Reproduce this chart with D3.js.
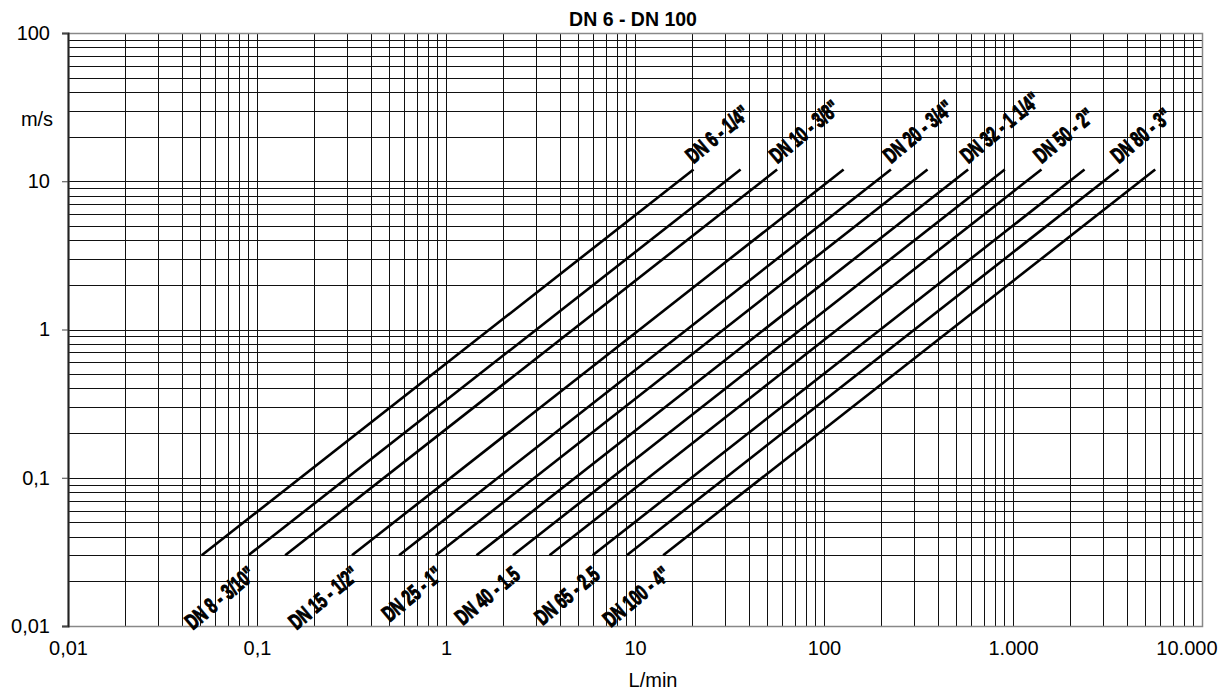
<!DOCTYPE html>
<html>
<head>
<meta charset="utf-8">
<script src="https://cdn.jsdelivr.net/npm/d3@7"></script>
<style>
  body { margin: 0; background: #fff; }
  svg text { font-family: "Liberation Sans", Arial, sans-serif; fill: #000; }
</style>
</head>
<body>
<svg id="chart"></svg>
<script>
// pipe sizes
var pipes = ['DN 6 - 1/4"', 'DN 8 - 3/10"', 'DN 10 - 3/8"', 'DN 15 - 1/2"', 'DN 20 - 3/4"', 'DN 25 - 1"',
             'DN 32 - 1 1/4"', 'DN 40 - 1.5', 'DN 50 - 2"', 'DN 65 - 2.5', 'DN 80 - 3"', 'DN 100 - 4"'];
// flow (L/min) at the low and high end of each line
var qMin = [0.051, 0.090, 0.141, 0.318, 0.565, 0.884, 1.45, 2.26, 3.53, 5.97, 9.05, 14.1];
var qMax = [20.4, 36.2, 56.5, 127, 226, 353, 579, 905, 1414, 2390, 3620, 5655];
// speed (m/s) at both ends
var vMin = [0.03, 0.03, 0.03, 0.03, 0.03, 0.03, 0.03, 0.03, 0.03, 0.03, 0.03, 0.03];
var vMax = [12, 12, 12, 12, 12, 12, 12, 12, 12, 12, 12, 12];
var labelTop = [true, false, true, false, true, false, true, false, true, false, true, false];

var xTicks = [0.01, 0.1, 1, 10, 100, 1000, 10000];
var xTickLabels = ["0,01", "0,1", "1", "10", "100", "1.000", "10.000"];
var yTicks = [0.01, 0.1, 1, 10, 100];
var yTickLabels = ["0,01", "0,1", "1", "10", "100"];

var W = 1227, H = 695;
var margin = {top: 33, right: 25, bottom: 69, left: 68};
var w = W - margin.left - margin.right,
    h = H - margin.top - margin.bottom;

var svg = d3.select("#chart").attr("width", W).attr("height", H);
var g = svg.append("g").attr("transform", "translate(" + margin.left + "," + margin.top + ")");

var x = d3.scaleLog().domain([0.01, 10000]).range([0, w]);
var y = d3.scaleLog().domain([0.01, 100]).range([h, 0]);

// grid
g.append("g").selectAll("line")
  .data(x.ticks())
  .enter().append("line")
  .attr("x1", function(d) { return Math.round(x(d)) + 0.5; })
  .attr("x2", function(d) { return Math.round(x(d)) + 0.5; })
  .attr("y1", 0).attr("y2", h)
  .attr("stroke", "#111").attr("stroke-width", 1);

g.append("g").selectAll("line")
  .data(y.ticks())
  .enter().append("line")
  .attr("y1", function(d) { return Math.round(y(d)) + 0.5; })
  .attr("y2", function(d) { return Math.round(y(d)) + 0.5; })
  .attr("x1", 0).attr("x2", w)
  .attr("stroke", "#111").attr("stroke-width", 1);

// frame
g.append("rect")
  .attr("x", 0.5).attr("y", 0.5).attr("width", w).attr("height", h)
  .attr("fill", "none").attr("stroke", "#888").attr("stroke-width", 1.5);

// axes
var yAxis = d3.axisLeft(y).tickValues(yTicks)
  .tickFormat(function(d, i) { return yTickLabels[i]; })
  .tickSize(6).tickPadding(12);
var ya = g.append("g").call(yAxis);
ya.select(".domain").attr("stroke", "#222").attr("stroke-width", 2);
ya.selectAll(".tick line").attr("stroke", "#444");
ya.selectAll("text").style("font-size", "20px");

var xAxis = d3.axisBottom(x).tickValues(xTicks)
  .tickFormat(function(d, i) { return xTickLabels[i]; })
  .tickSize(0).tickPadding(15);
var xa = g.append("g").attr("transform", "translate(0," + h + ")").call(xAxis);
xa.select(".domain").remove();
xa.selectAll("text").style("font-size", "20px");
// last label pulled inside the window, like the original
xa.selectAll(".tick text").filter(function(d) { return d === 10000; })
  .attr("text-anchor", "end").attr("dx", 15);

// pipe lines
var line = d3.line().x(function(d) { return x(d[0]); }).y(function(d) { return y(d[1]); });
var ends = pipes.map(function(p, i) { return [[qMin[i], vMin[i]], [qMax[i], vMax[i]]]; });

g.append("g").selectAll("path")
  .data(ends)
  .enter().append("path")
  .attr("d", line)
  .attr("fill", "none").attr("stroke", "#000").attr("stroke-width", 2.6);

// pipe labels, squeezed to look like a condensed face
var ang = -40, squeeze = 0.68;
g.append("g").selectAll("text")
  .data(pipes)
  .enter().append("text")
  .attr("transform", function(d, i) {
    var px = labelTop[i] ? x(qMax[i]) : x(qMin[i]);
    var py = labelTop[i] ? y(vMax[i]) : y(vMin[i]);
    return "translate(" + px + "," + py + ") rotate(" + ang + ") scale(" + squeeze + ",1)";
  })
  .attr("text-anchor", function(d, i) { return labelTop[i] ? "start" : "end"; })
  .attr("dx", function(d, i) { return labelTop[i] ? 5 : -11; })
  .attr("dy", function(d, i) { return labelTop[i] ? -4 : 22; })
  .style("font-size", "22px").style("font-weight", "bold")
  .attr("stroke", "#000").attr("stroke-width", 1.1)
  .text(function(d) { return d; });

// titles
svg.append("text").attr("x", 633).attr("y", 26).attr("text-anchor", "middle")
  .style("font-size", "19.5px").style("font-weight", "bold").text("DN 6 - DN 100");
svg.append("text").attr("x", 37).attr("y", 126).attr("text-anchor", "middle")
  .style("font-size", "20px").text("m/s");
svg.append("text").attr("x", 653).attr("y", 687).attr("text-anchor", "middle")
  .style("font-size", "20px").text("L/min");
</script>
</body>
</html>
